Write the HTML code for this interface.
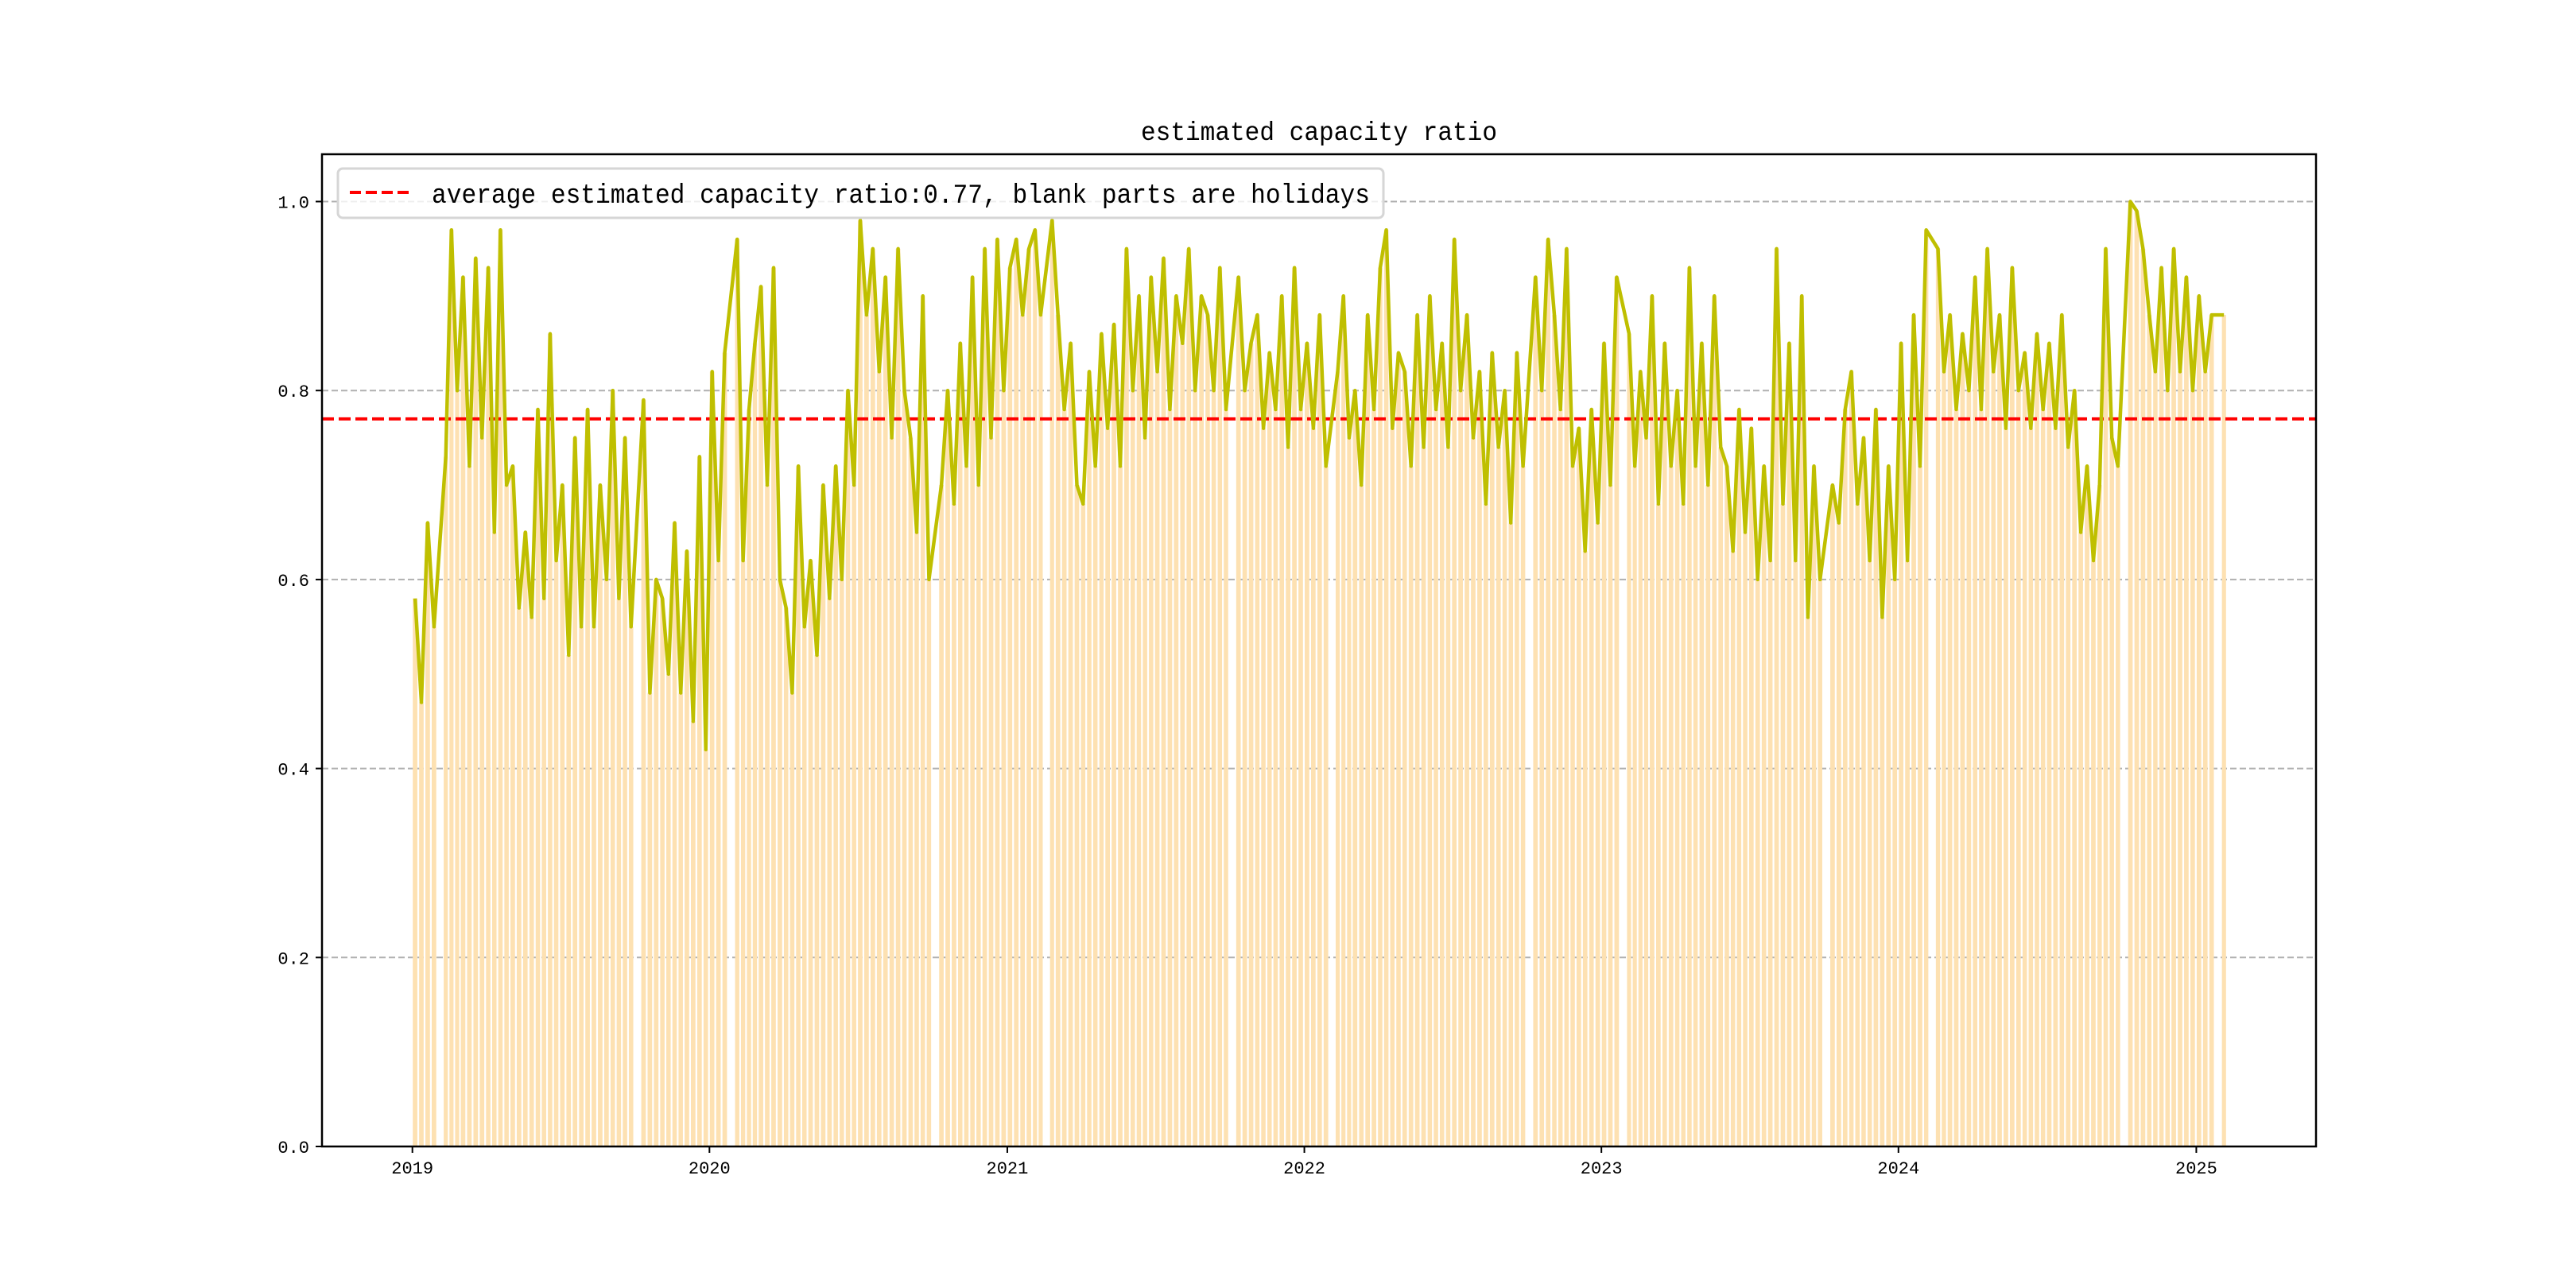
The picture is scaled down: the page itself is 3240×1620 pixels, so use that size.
<!DOCTYPE html>
<html><head><meta charset="utf-8"><style>
html,body{margin:0;padding:0;background:#fff;}
svg{display:block;}
</style></head><body>
<svg id="chart" width="3240" height="1620" xmlns="http://www.w3.org/2000/svg" font-family="'Liberation Mono','WenQuanYi Zen Hei',monospace">
<rect width="3240" height="1620" fill="#fff"/>
<text x="1659" y="176" font-size="33" text-anchor="middle" textLength="448" lengthAdjust="spacingAndGlyphs">estimated capacity ratio</text>
<g id="grid"></g>
<g id="bars"></g>
<g id="avg"></g>
<g id="series"></g>
<g id="axes"></g>
<g>
<rect x="425" y="212" width="1315" height="62" rx="6" fill="#fff" fill-opacity="0.8" stroke="#d6d6d6" stroke-width="3"/>
<line x1="440" y1="242" x2="517" y2="242" stroke="#ff0000" stroke-width="4" stroke-dasharray="14,6"/>
<text x="543" y="255" font-size="34" textLength="1180" lengthAdjust="spacingAndGlyphs">average estimated capacity ratio:0.77, blank parts are holidays</text>
</g>
</svg>
<script>
// Monthly groups of ~weekly values (4 slots per month), null = holiday
const months = ["2019-01","2019-02","2019-03","2019-04","2019-05","2019-06","2019-07","2019-08","2019-09","2019-10","2019-11","2019-12",
"2020-01","2020-02","2020-03","2020-04","2020-05","2020-06","2020-07","2020-08","2020-09","2020-10","2020-11","2020-12",
"2021-01","2021-02","2021-03","2021-04","2021-05","2021-06","2021-07","2021-08","2021-09","2021-10","2021-11","2021-12",
"2022-01","2022-02","2022-03","2022-04","2022-05","2022-06","2022-07","2022-08","2022-09","2022-10","2022-11","2022-12",
"2023-01","2023-02","2023-03","2023-04","2023-05","2023-06","2023-07","2023-08","2023-09","2023-10","2023-11","2023-12",
"2024-01","2024-02","2024-03","2024-04","2024-05","2024-06","2024-07","2024-08","2024-09","2024-10","2024-11","2024-12",
"2025-01","2025-02"];
const values2019 = [[0.58,0.47,0.66,0.55],[null,0.73,0.97,0.80],[0.92,0.72,0.94,0.75],[0.93,0.65,0.97,0.70],[0.72,0.57,0.65,0.56],[0.78,0.58,0.86,0.62],[0.70,0.52,0.75,0.55],[0.78,0.55,0.70,0.60],[0.80,0.58,0.75,0.55],[null,0.79,0.48,0.60],[0.58,0.50,0.66,0.48],[0.63,0.45,0.73,0.42]];
const values2020 = [[0.82,0.62,0.84,null],[0.96,0.62,0.78,0.85],[0.91,0.70,0.93,0.60],[0.57,0.48,0.72,0.55],[0.62,0.52,0.70,0.58],[0.72,0.60,0.80,0.70],[0.98,0.88,0.95,0.82],[0.92,0.75,0.95,0.80],[0.75,0.65,0.90,0.60],[null,0.70,0.80,0.68],[0.85,0.72,0.92,0.70],[0.95,0.75,0.96,0.80]];
const values2021 = [[0.93,0.96,0.88,0.95],[0.97,0.88,null,0.98],[0.88,0.78,0.85,0.70],[0.68,0.82,0.72,0.86],[0.76,0.87,0.72,0.95],[0.80,0.90,0.75,0.92],[0.82,0.94,0.78,0.90],[0.85,0.95,0.80,0.90],[0.88,0.80,0.93,0.78],[null,0.92,0.80,0.85],[0.88,0.76,0.84,0.78],[0.90,0.74,0.93,0.78]];
const values2022 = [[0.85,0.76,0.88,0.72],[null,0.82,0.90,0.75],[0.80,0.70,0.88,0.78],[0.93,0.97,0.76,0.84],[0.82,0.72,0.88,0.74],[0.90,0.78,0.85,0.74],[0.96,0.80,0.88,0.75],[0.82,0.68,0.84,0.74],[0.80,0.66,0.84,0.72],[null,0.92,0.80,0.96],[0.88,0.78,0.95,0.72],[0.76,0.63,0.78,0.66]];
const values2023 = [[0.85,0.70,0.92,null],[0.86,0.72,0.82,0.75],[0.90,0.68,0.85,0.72],[0.80,0.68,0.93,0.72],[0.85,0.70,0.90,0.74],[0.72,0.63,0.78,0.65],[0.76,0.60,0.72,0.62],[0.95,0.68,0.85,0.62],[0.90,0.56,0.72,0.60],[null,0.70,0.66,0.78],[0.82,0.68,0.75,0.62],[0.78,0.56,0.72,0.60]];
const values2024 = [[0.85,0.62,0.88,0.72],[0.97,null,0.95,0.82],[0.88,0.78,0.86,0.80],[0.92,0.78,0.95,0.82],[0.88,0.76,0.93,0.80],[0.84,0.76,0.86,0.78],[0.85,0.76,0.88,0.74],[0.80,0.65,0.72,0.62],[0.70,0.95,0.75,0.72],[null,1.00,0.99,0.95],[0.88,0.82,0.93,0.80],[0.95,0.82,0.92,0.80]];
const values2025 = [[0.90,0.82,0.88,null],[0.88]];
const averageRatio = 0.77;
const yTicks = [0.0,0.2,0.4,0.6,0.8,1.0];
const yTickLabels = ["0.0","0.2","0.4","0.6","0.8","1.0"];
const xTickYears = [2019,2020,2021,2022,2023,2024,2025];

const NS = "http://www.w3.org/2000/svg";
const L = 405, R = 2913, T = 194, B = 1442;
const X0 = 518.7, PXDAY = 1.0236, YSCALE = 1188.5;
const DAY = 86400000, ORIGIN = Date.UTC(2019,0,1);
function xDate(ms){ return X0 + (ms - ORIGIN)/DAY*PXDAY; }
function yVal(v){ return B - v*YSCALE; }
function mk(tag, attrs, parent){ const e=document.createElementNS(NS,tag); for(const k in attrs) e.setAttribute(k,attrs[k]); parent.appendChild(e); return e; }

const allValues = values2019.concat(values2020,values2021,values2022,values2023,values2024,values2025);

const grid = document.getElementById('grid');
yTicks.forEach(v=>{
  const g = mk('line',{x1:L,x2:R,y1:yVal(v),y2:yVal(v),stroke:'#b0b0b0','stroke-width':2,'stroke-dasharray':'8,4'},grid);
  
  
});

const bars = document.getElementById('bars');
const pts = [];
months.forEach((m,i)=>{
  const [yy,mm] = m.split('-').map(Number);
  const s = Date.UTC(yy,mm-1,1), e = Date.UTC(yy,mm,1);
  const slot = (e-s)/4;
  (allValues[i]||[]).forEach((v,k)=>{
    if(v===null) return;
    const xa = xDate(s + k*slot), xb = xDate(s + (k+1)*slot);
    const w = (xb-xa)*0.72;
    const b = mk('rect',{x:xa+0.5,y:yVal(v),width:w,height:B-yVal(v),fill:'#fde1b2'},bars);
    
    
    pts.push([xa+0.5+w/2, yVal(v)]);
  });
});
const series = document.getElementById('series');
let d='';
pts.forEach((p,i)=>{ d += (i?'L':'M')+p[0].toFixed(1)+','+p[1].toFixed(1); });
const line = mk('path',{d:d,fill:'none',stroke:'#bfbf00','stroke-width':4.5,'stroke-linejoin':'round'},series);



const avg = mk('line',{x1:L,x2:R,y1:yVal(averageRatio),y2:yVal(averageRatio),stroke:'#ff0000','stroke-width':4,'stroke-dasharray':'15,6'},document.getElementById('avg'));



const axes = document.getElementById('axes');
const frame = mk('rect',{x:L,y:T,width:R-L,height:B-T,fill:'none',stroke:'#000','stroke-width':2.5},axes);


yTicks.forEach((v,i)=>{
  mk('line',{x1:L-8,x2:L,y1:yVal(v),y2:yVal(v),stroke:'#000','stroke-width':2},axes);
  const t = mk('text',{x:L-16,y:yVal(v)+8,'font-size':22,'text-anchor':'end'},axes);
  t.textContent = yTickLabels[i];
  
  
});
xTickYears.forEach(yr=>{
  const x = xDate(Date.UTC(yr,0,1));
  mk('line',{x1:x,x2:x,y1:B,y2:B+8,stroke:'#000','stroke-width':2},axes);
  const t = mk('text',{x:x,y:1476,'font-size':22,'text-anchor':'middle'},axes);
  t.textContent = String(yr);
  
  
});
</script>
</body></html>
